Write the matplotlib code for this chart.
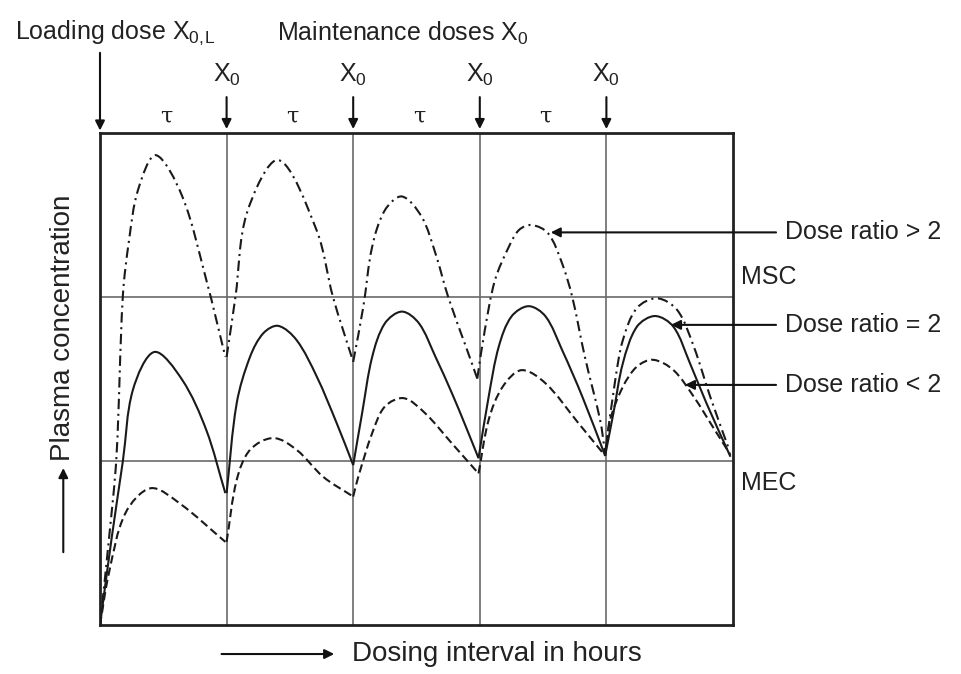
"""
Plasma concentration vs. dosing interval for three loading/maintenance dose ratios.
Saves out.png (961x674).
"""

import math

import matplotlib
matplotlib.use("Agg")
import matplotlib.pyplot as plt
from matplotlib.path import Path
from matplotlib.patches import PathPatch

plt.rcParams["font.family"] = ["Liberation Sans", "DejaVu Sans"]
plt.rcParams["mathtext.fontset"] = "custom"
plt.rcParams["mathtext.rm"] = "Liberation Sans"

# ---------------------------------------------------------------------------
# Data (x in dosing intervals tau, y as % of plot height)
# ---------------------------------------------------------------------------
MSC = 66.7
MEC = 33.3
dose_times = [1, 2, 3, 4]
tau_centres = [0.5, 1.5, 2.5, 3.5]

# dose ratio > 2 (dash-dot), one list per interval
gt2_x = [
    [0.0, 0.07, 0.13, 0.18, 0.23, 0.30, 0.44, 0.65, 0.84, 0.99],
    [1.0, 1.07, 1.16, 1.41, 1.71, 1.84, 2.0],
    [2.0, 2.08, 2.15, 2.25, 2.385, 2.54, 2.65, 2.75, 2.89, 2.98],
    [2.98, 3.04, 3.12, 3.23, 3.31, 3.41, 3.54, 3.65, 3.73, 3.83, 3.95, 3.99],
    [3.99, 4.07, 4.13, 4.24, 4.40, 4.56, 4.69, 4.82, 4.97],
]
gt2_y = [
    [0, 17.3, 34.2, 66.7, 78.3, 88.4, 95.5, 87.1, 70.1, 54.5],
    [54.5, 66.7, 83.7, 94.5, 80.3, 66.7, 53.5],
    [53.5, 64.7, 76.9, 84.3, 87.1, 83.0, 75.5, 66.7, 56.6, 50.1],
    [50.1, 60.0, 70.1, 76.9, 80.3, 81.3, 79.6, 73.5, 66.7, 54.5, 41.7, 35],
    [35, 49.8, 57.9, 64.4, 66.4, 64.0, 56.6, 46.4, 35.6],
]

# dose ratio = 2 (solid)
eq2_x = [
    [0.0, 0.09, 0.18, 0.26, 0.43, 0.65, 0.84, 0.99],
    [1.0, 1.08, 1.185, 1.29, 1.408, 1.553, 1.712, 1.87, 2.0],
    [2.0, 2.07, 2.15, 2.25, 2.385, 2.52, 2.65, 2.78, 2.89, 2.99],
    [2.99, 3.07, 3.15, 3.25, 3.386, 3.52, 3.65, 3.81, 3.99],
    [3.99, 4.055, 4.13, 4.24, 4.384, 4.53, 4.66, 4.79, 4.98],
]
eq2_y = [
    [0, 17.3, 33.2, 47.8, 55.5, 49.8, 39.6, 26.8],
    [26.8, 45.1, 54.5, 59.3, 60.8, 57.9, 50.5, 41.0, 32.5],
    [32.5, 43.0, 54.5, 61.3, 63.7, 61.3, 54.5, 47.1, 40.3, 33.9],
    [33.9, 46.4, 56.6, 62.7, 64.8, 62.7, 55.9, 46.4, 34.4],
    [34.4, 43.0, 53.2, 60.6, 62.8, 60.6, 53.2, 45.1, 34.2],
]

# dose ratio < 2 (dashed)
lt2_x = [
    [0.0, 0.07, 0.20, 0.40, 0.63, 0.99],
    [1.0, 1.08, 1.185, 1.369, 1.553, 1.764, 2.0],
    [2.0, 2.04, 2.15, 2.25, 2.40, 2.57, 2.78, 2.99],
    [2.99, 3.07, 3.18, 3.33, 3.52, 3.78, 3.99],
    [3.99, 4.03, 4.13, 4.24, 4.37, 4.53, 4.69, 4.84, 4.98],
]
lt2_y = [
    [0, 10.5, 22.7, 27.8, 24.7, 16.9],
    [16.9, 29.5, 35.6, 38.0, 35.6, 30.1, 26.1],
    [26.1, 30.1, 39.0, 44.4, 46.1, 43.0, 36.9, 30.8],
    [30.8, 41.7, 48.4, 51.8, 49.1, 41.0, 34.4],
    [34.4, 41.7, 48.4, 52.5, 53.9, 51.8, 46.4, 40.3, 34.6],
]

# right-hand labels and the curve points their arrows touch
label_text = ["Dose ratio > 2", "Dose ratio = 2", "Dose ratio < 2"]
label_tip_x = [3.56, 4.51, 4.62]
label_y = [79.8, 61.0, 48.8]

# px per data unit, used only to give the smoothing equal weight on both axes
SX, SY = 126.6, 4.92


def smooth_path(xs, ys):
    """Smooth curve through the read points (chord-length Catmull-Rom)."""
    pts = [(x * SX, y * SY) for x, y in zip(xs, ys)]
    n = len(pts)
    d = [math.dist(pts[i], pts[i + 1]) for i in range(n - 1)]
    tan = []
    for i in range(n):
        if i == 0:
            a, b, L = pts[0], pts[1], d[0]
        elif i == n - 1:
            a, b, L = pts[-2], pts[-1], d[-1]
        else:
            a, b, L = pts[i - 1], pts[i + 1], d[i - 1] + d[i]
        tan.append(((b[0] - a[0]) / L, (b[1] - a[1]) / L))
    verts = [pts[0]]
    codes = [Path.MOVETO]
    for i in range(n - 1):
        h = d[i] / 3
        c1 = (pts[i][0] + tan[i][0] * h, pts[i][1] + tan[i][1] * h)
        c2 = (pts[i + 1][0] - tan[i + 1][0] * h, pts[i + 1][1] - tan[i + 1][1] * h)
        verts += [c1, c2, pts[i + 1]]
        codes += [Path.CURVE4] * 3
    verts = [(vx / SX, vy / SY) for vx, vy in verts]
    return Path(verts, codes)


def draw_curve(ax, seg_x, seg_y, ls):
    for xs, ys in zip(seg_x, seg_y):
        ax.add_patch(PathPatch(smooth_path(xs, ys), fill=False, ec="#1a1a1a",
                               lw=1.5, ls=ls, capstyle="butt", zorder=3))


fig = plt.figure(figsize=(9.61, 6.74), dpi=100)
ax = fig.add_axes([100 / 961, 49 / 674, 633 / 961, 492 / 674])
ax.set_xlim(0, 5)
ax.set_ylim(0, 100)
ax.set_xticks([])
ax.set_yticks([])
for sp in ax.spines.values():
    sp.set_linewidth(2.0)
    sp.set_color("#222222")

GRID = "#6a6a6a"
for t in dose_times:
    ax.axvline(t, color=GRID, lw=1.2, zorder=1)
ax.axhline(MSC, color=GRID, lw=1.2, zorder=1)
ax.axhline(MEC, color=GRID, lw=1.2, zorder=1)

draw_curve(ax, gt2_x, gt2_y, (0, (5, 2.2, 1, 2.2)))
draw_curve(ax, eq2_x, eq2_y, "-")
draw_curve(ax, lt2_x, lt2_y, (0, (4, 2)))

FS = 18
TXT = "#222222"
arrow_kw = dict(arrowstyle="-|>", color="#111111", lw=1.5, mutation_scale=14,
                shrinkA=0, shrinkB=0)

# right-hand labels with arrows pointing at each curve
for txt, tx, yl in zip(label_text, label_tip_x, label_y):
    ax.annotate("", xy=(tx, yl), xytext=(5.34, yl), annotation_clip=False,
                arrowprops=arrow_kw)
    ax.text(5.41, yl, txt, fontsize=FS, color=TXT, va="center", ha="left",
            clip_on=False)
ax.text(5.06, 68.3, "MSC", fontsize=FS, color=TXT, va="bottom", ha="left")
ax.text(5.06, 31.2, "MEC", fontsize=FS, color=TXT, va="top", ha="left")

# dosing arrows along the top
ax.text(-0.67, 120.3, r"Loading dose $\mathregular{X_{0,\!L}}$", fontsize=FS,
        color=TXT, va="center", ha="left", clip_on=False)
ax.text(1.40, 120.3, r"Maintenance doses $\mathregular{X_0}$", fontsize=FS,
        color=TXT, va="center", ha="left", clip_on=False)
ax.annotate("", xy=(0, 100.5), xytext=(0, 116.3), annotation_clip=False,
            arrowprops=arrow_kw)
for t in dose_times:
    ax.annotate("", xy=(t, 100.8), xytext=(t, 107.3), annotation_clip=False,
                arrowprops=arrow_kw)
    ax.text(t, 111.8, r"$\mathregular{X_0}$", fontsize=FS, color=TXT,
            va="center", ha="center", clip_on=False)
for c in tau_centres:
    ax.text(c + 0.02, 103.3, "τ", fontsize=16, color=TXT, va="center",
            ha="center", family=["DejaVu Serif"], clip_on=False)

# axis captions
ax.text(-0.29, 60.4, "Plasma concentration", fontsize=20, color=TXT,
        rotation=90, va="center", ha="center", clip_on=False)
ax.annotate("", xy=(-0.29, 31.9), xytext=(-0.29, 14.8), annotation_clip=False,
            arrowprops=arrow_kw)
ax.annotate("", xy=(1.85, -5.9), xytext=(0.96, -5.9), annotation_clip=False,
            arrowprops=arrow_kw)
ax.text(1.99, -5.9, "Dosing interval in hours", fontsize=20, color=TXT,
        va="center", ha="left", clip_on=False)

fig.savefig("out.png", dpi=100, facecolor="white")
